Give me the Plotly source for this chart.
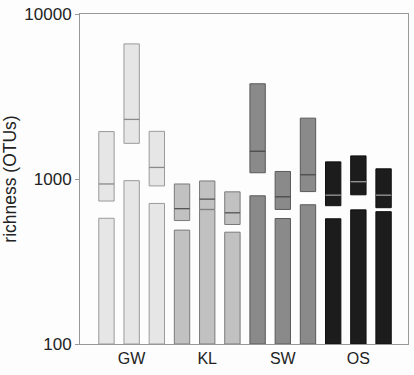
import plotly.graph_objects as go

groups = ["GW", "KL", "SW", "OS"]
group_fill = ["#e6e6e6", "#c1c1c1", "#8a8a8a", "#1c1c1c"]
group_line = ["#9a9a9a", "#7a7a7a", "#5a5a5a", "#101010"]
group_median = ["#8a8a8a", "#555555", "#4a4a4a", "#9a9a9a"]

# three samples per group
observed = [578, 977, 711, 490, 652, 476, 791, 576, 698, 574, 650, 634]
est_low = [735, 1645, 908, 560, 655, 530, 1091, 654, 839, 689, 802, 670]
est_high = [1938, 6590, 1945, 933, 973, 836, 3777, 1111, 2338, 1270, 1380, 1153]
est_mid = [933, 2297, 1175, 661, 755, 624, 1473, 780, 1061, 798, 963, 798]

y_ticks = [100, 1000, 10000]
y_tick_text = ["100", "1000", "10000"]

xs = list(range(len(observed)))
gi = [i // 3 for i in xs]
fills = [group_fill[g] for g in gi]
lines = [group_line[g] for g in gi]
meds = [group_median[g] for g in gi]

fig = go.Figure()
fig.add_trace(go.Bar(
    x=xs, y=[v - 100 for v in observed], base=[100] * len(observed),
    width=0.61, marker=dict(color=fills, line=dict(color=lines, width=1)),
    showlegend=False, hoverinfo="skip"))
fig.add_trace(go.Bar(
    x=xs, y=[h - l for h, l in zip(est_high, est_low)], base=est_low,
    width=0.61, marker=dict(color=fills, line=dict(color=lines, width=1)),
    showlegend=False, hoverinfo="skip"))
fig.add_trace(go.Scatter(
    x=xs, y=est_mid, mode="markers",
    marker=dict(symbol="line-ew", size=11, line=dict(color=meds, width=1.3)),
    showlegend=False, hoverinfo="skip"))

fig.update_layout(
    width=414, height=375, barmode="overlay",
    margin=dict(l=80, r=5, t=10, b=31),
    paper_bgcolor="#fdfdfd", plot_bgcolor="#fdfdfd",
    font=dict(family="Liberation Sans, Arial, sans-serif", size=17, color="#222222"),
    xaxis=dict(range=[-1.05, 11.97], tickvals=[1, 4, 7, 10], ticktext=groups,
               showgrid=False, zeroline=False, showline=True, linecolor="#999999",
               linewidth=1, mirror=True, ticks="", tickfont=dict(size=16)),
    yaxis=dict(type="log", range=[2, 4], tickvals=y_ticks, ticktext=y_tick_text,
               showgrid=False, zeroline=False, showline=True, linecolor="#999999",
               linewidth=1, mirror=True, ticks="outside", ticklen=4, tickcolor="#999999",
               tickfont=dict(size=17), ticklabeloverflow="allow",
               title=dict(text="richness (OTUs)", font=dict(size=17.5), standoff=6)),
)
fig.write_html("out.html", config={"displayModeBar": False},
               post_script="document.body.style.margin='0';document.body.style.overflow='hidden';")
